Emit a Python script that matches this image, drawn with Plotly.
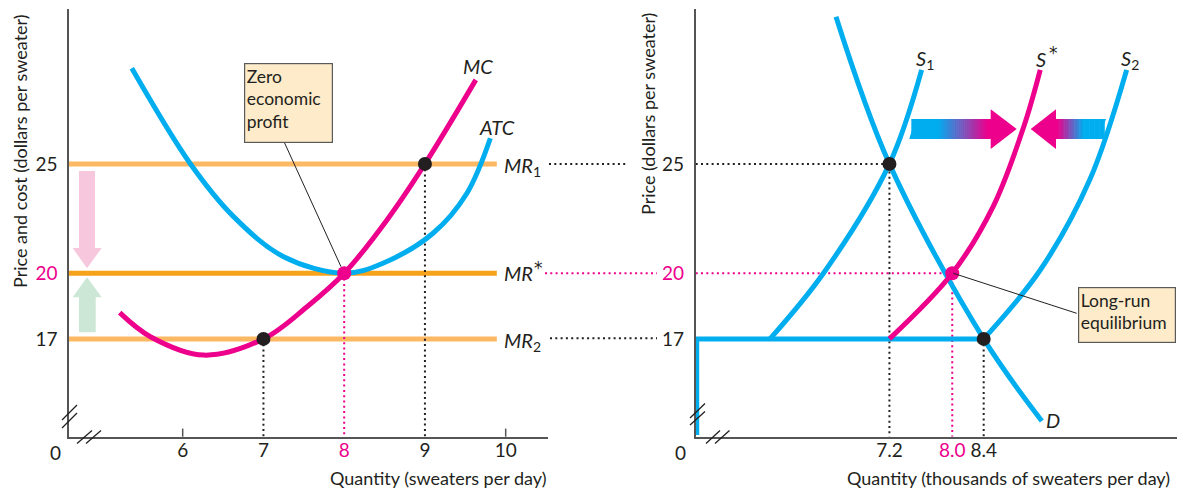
import plotly.graph_objects as go

# ---------------- data ----------------
# Left panel: firm
qty_ticks_left = [6, 7, 8, 9, 10]
qty_tick_text_left = ["6", "7", "8", "9", "10"]
price_ticks = [17, 20, 25]
price_tick_text = ["17", "20", "25"]

atc_q = [5.37, 6.09, 6.63, 7.25, 8.0, 8.48, 9.10, 9.52, 9.81]
atc_p = [29.37, 25.03, 22.59, 20.76, 20.0, 20.46, 21.83, 23.66, 26.17]

mc_q = [5.22, 5.60, 6.26, 7.0, 7.54, 8.0, 8.53, 9.0, 9.63]
mc_p = [18.20, 17.10, 16.26, 17.0, 18.47, 20.0, 22.44, 25.0, 28.84]

mr_levels = [25, 20, 17]          # MR1, MR*, MR2
mr_q_end = 9.89
firm_q = [9, 8, 7]                # output at MR1, MR*, MR2

# Right panel: industry
qty_ticks_right = [7.2, 8.0, 8.4]
qty_tick_text_right = ["7.2", "8.0", "8.4"]

d_q = [6.52, 7.2, 8.4, 9.14]
d_p = [31.73, 25.0, 17.0, 13.25]

s1_q = [5.68, 6.36, 7.2, 7.61]
s1_p = [17.0, 20.0, 25.0, 29.3]

sstar_q = [7.2, 8.0, 8.52, 8.91, 9.12]
sstar_p = [17.0, 20.0, 23.05, 26.70, 29.3]

s2_q = [8.4, 9.12, 9.75, 10.22]
s2_p = [17.0, 20.15, 24.27, 29.3]

shut_q = [4.747, 4.747, 8.4]
shut_p = [12.61, 17.0, 17.0]

eq_q = [7.2, 8.0, 8.4]
eq_p = [25, 20, 17]

# ---------------- styles ----------------
W, H = 1178, 489
BLUE = "#00AEEF"
PINK = "#EC008C"
DARK = "#231F20"
ORANGE_LIGHT = "#FDB863"
ORANGE = "#F7A21B"
AXIS = "#555555"
FONT = "Lato"

LX0, LX1 = 4.592, 10.524
RX0, RX1 = 4.734, 10.857
Y0, Y1 = 12.53, 32.08


def px(x):
    return x / W


def py(y):
    return 1 - y / H


def hexmix(c1, c2, t):
    a = [int(c1[i:i + 2], 16) for i in (1, 3, 5)]
    b = [int(c2[i:i + 2], 16) for i in (1, 3, 5)]
    m = [round(a[k] + (b[k] - a[k]) * t) for k in range(3)]
    return "#%02x%02x%02x" % tuple(m)


fig = go.Figure()

# ---- left panel ----
mr_colors = [ORANGE_LIGHT, ORANGE, ORANGE_LIGHT]
for lvl, col in zip(mr_levels, mr_colors):
    fig.add_trace(go.Scatter(x=[LX0, mr_q_end], y=[lvl, lvl], mode="lines",
                             line=dict(color=col, width=5), xaxis="x", yaxis="y",
                             hoverinfo="skip"))

dot_cols_left = [DARK, PINK, DARK]
for q, p, c in zip(firm_q, mr_levels, dot_cols_left):
    fig.add_trace(go.Scatter(x=[q, q], y=[p, Y0], mode="lines",
                             line=dict(color=c, width=2, dash="2px,3.3px"),
                             xaxis="x", yaxis="y", hoverinfo="skip"))

fig.add_trace(go.Scatter(x=atc_q, y=atc_p, mode="lines",
                         line=dict(color=BLUE, width=5, shape="spline", smoothing=1.0),
                         xaxis="x", yaxis="y"))
fig.add_trace(go.Scatter(x=mc_q, y=mc_p, mode="lines",
                         line=dict(color=PINK, width=5, shape="spline", smoothing=1.0),
                         xaxis="x", yaxis="y"))
fig.add_trace(go.Scatter(x=firm_q, y=mr_levels, mode="markers",
                         marker=dict(color=[DARK, PINK, DARK], size=14, line=dict(width=0)),
                         xaxis="x", yaxis="y"))

# ---- right panel ----
fig.add_trace(go.Scatter(x=[RX0, eq_q[0], eq_q[0]], y=[eq_p[0], eq_p[0], Y0], mode="lines",
                         line=dict(color=DARK, width=2, dash="2px,3.3px"),
                         xaxis="x2", yaxis="y2"))
fig.add_trace(go.Scatter(x=[RX0, eq_q[1], eq_q[1]], y=[eq_p[1], eq_p[1], Y0], mode="lines",
                         line=dict(color=PINK, width=2, dash="2px,3.3px"),
                         xaxis="x2", yaxis="y2"))
fig.add_trace(go.Scatter(x=[eq_q[2], eq_q[2]], y=[eq_p[2], Y0], mode="lines",
                         line=dict(color=DARK, width=2, dash="2px,3.3px"),
                         xaxis="x2", yaxis="y2"))

fig.add_trace(go.Scatter(x=shut_q, y=shut_p, mode="lines",
                         line=dict(color=BLUE, width=5), xaxis="x2", yaxis="y2"))
for qq, pp, col in [(s1_q, s1_p, BLUE), (s2_q, s2_p, BLUE),
                    (d_q, d_p, BLUE), (sstar_q, sstar_p, PINK)]:
    fig.add_trace(go.Scatter(x=qq, y=pp, mode="lines",
                             line=dict(color=col, width=5, shape="spline", smoothing=1.0),
                             xaxis="x2", yaxis="y2"))

fig.add_trace(go.Scatter(x=eq_q, y=eq_p, mode="markers",
                         marker=dict(color=[DARK, PINK, DARK], size=14, line=dict(width=0)),
                         xaxis="x2", yaxis="y2"))

# ---------------- shapes ----------------
shapes = []


def line_px(x0, y0, x1, y1, color=DARK, width=1.2, dash=None):
    d = dict(type="line", xref="paper", yref="paper", x0=px(x0), y0=py(y0),
             x1=px(x1), y1=py(y1), line=dict(color=color, width=width))
    if dash:
        d["line"]["dash"] = dash
    shapes.append(d)


def poly_px(pts, color):
    path = "M " + " L ".join("%f,%f" % (px(a), py(b)) for a, b in pts) + " Z"
    shapes.append(dict(type="path", xref="paper", yref="paper", path=path,
                       fillcolor=color, line=dict(width=0), layer="above"))


# connector dotted lines between panels
line_px(549, 164, 628, 164, DARK, 2, "2px,3.3px")
line_px(545, 273.3, 657, 273.3, PINK, 2, "2px,3.3px")
line_px(550, 338.3, 657, 338.3, DARK, 2, "2px,3.3px")

# tick marks at 6 and 10
for q in (6, 10):
    shapes.append(dict(type="line", xref="x", yref="y domain", x0=q, x1=q, y0=0, y1=0.019,
                       line=dict(color=AXIS, width=1.5)))

# axis breaks
for (a, b, c, d) in [(62, 420, 77, 405), (62, 428, 77, 413),
                     (77, 443.5, 92, 430.5), (86, 443.5, 101, 430.5),
                     (690, 425, 705, 411.5), (690, 418, 705, 403.5),
                     (706, 443.5, 720, 430.5), (715, 443.5, 729.5, 430.5)]:
    line_px(a, b, c, d, DARK, 1.3)

# leader lines
line_px(284.3, 142.3, 341, 266.7, DARK, 1)
line_px(1076.7, 313.3, 953.3, 273.3, DARK, 1)

# pink (down) and green (up) arrows in left panel
PINK_SOFT = "#F7C7DE"
GREEN_SOFT = "#CDE7D7"
poly_px([(79, 171), (95, 171), (95, 248), (101.7, 248), (87, 268.3), (72.7, 248), (79, 248)], PINK_SOFT)
poly_px([(79, 332.3), (95.7, 332.3), (95.7, 297.3), (101.7, 297.3), (87, 277.3), (72.7, 297.3), (79, 297.3)], GREEN_SOFT)

# gradient arrows in right panel
top, bot = 119, 139
n = 40
xa, xb = 909.3, 990.7
for i in range(n):
    s0 = xa + (xb - xa) * i / n
    s1 = xa + (xb - xa) * (i + 1) / n + 0.6
    mid = (s0 + s1) / 2
    t = min(max((mid - 938) / (988 - 938), 0), 1)
    col = hexmix(BLUE, PINK, t)
    if i == 0:
        pts = [(909.3, bot), (915, top), (s1, top), (s1, bot)]
    else:
        pts = [(s0, bot), (s0, top), (s1, top), (s1, bot)]
    poly_px(pts, col)
poly_px([(990.7, 109.3), (1016.7, 129), (990.7, 149)], PINK)

xa, xb = 1056, 1106
for i in range(n):
    s0 = xa + (xb - xa) * i / n - 0.6
    s1 = xa + (xb - xa) * (i + 1) / n
    mid = (s0 + s1) / 2
    t = min(max((mid - 1058) / (1084 - 1058), 0), 1)
    col = hexmix(PINK, BLUE, t)
    if i == n - 1:
        pts = [(s0, bot), (s0, top), (1106, top), (1099.3, bot)]
    else:
        pts = [(s0, bot), (s0, top), (s1, top), (s1, bot)]
    poly_px(pts, col)
poly_px([(1056, 109.3), (1030.7, 129), (1056, 149)], PINK)

# ---------------- annotations ----------------
ann = []


def text_px(x, y, text, size=17, color=DARK, xanchor="center", yanchor="middle",
            angle=0, family=FONT):
    ann.append(dict(x=px(x), y=py(y), xref="paper", yref="paper", text=text,
                    showarrow=False, xanchor=xanchor, yanchor=yanchor, textangle=angle,
                    font=dict(family=family, size=size, color=color)))


TITLE = 18
text_px(55, 452, "0", 19)
text_px(680, 452, "0", 19)
text_px(20, 151, "Price and cost (dollars per sweater)", TITLE, angle=-90)
text_px(648, 114, "Price (dollars per sweater)", TITLE, angle=-90)
text_px(548, 478, "Quantity (sweaters per day)", TITLE, xanchor="right")
text_px(1172, 478, "Quantity (thousands of sweaters per day)", TITLE, xanchor="right")

LAB = 20
text_px(502, 167, "<i>MR</i><sub>1</sub>", LAB, xanchor="left")
text_px(502, 273, "<i>MR</i>", LAB, xanchor="left")
text_px(532, 268, "*", 17, xanchor="left", family="DejaVu Sans")
text_px(502, 341, "<i>MR</i><sub>2</sub>", LAB, xanchor="left")
text_px(478, 66, "<i>MC</i>", LAB)
text_px(497, 127, "<i>ATC</i>", LAB)
text_px(925, 60, "<i>S</i><sub>1</sub>", LAB)
text_px(1041, 59, "<i>S</i>", LAB)
text_px(1047, 53, "*", 17, xanchor="left", family="DejaVu Sans")
text_px(1130, 60, "<i>S</i><sub>2</sub>", LAB)
text_px(1053, 420, "<i>D</i>", LAB)

BOX_BG = "#FDEBC9"
BOXF = 17.5
ann.append(dict(x=px(244.3), y=py(62.7), xref="paper", yref="paper",
                text="Zero<br>economic<br>profit", showarrow=False,
                xanchor="left", yanchor="top", align="left", valign="top",
                width=84, height=75, borderpad=1.5, bgcolor=BOX_BG,
                bordercolor="#5a5a5a", borderwidth=1.2,
                font=dict(family=FONT, size=BOXF, color=DARK)))
ann.append(dict(x=px(1078.3), y=py(286.7), xref="paper", yref="paper",
                text="Long-run<br>equilibrium", showarrow=False,
                xanchor="left", yanchor="top", align="left", valign="top",
                width=93, height=51, borderpad=1.5, bgcolor=BOX_BG,
                bordercolor="#5a5a5a", borderwidth=1.2,
                font=dict(family=FONT, size=BOXF, color=DARK)))

# ---------------- layout ----------------
dom_y = [1 - 436.7 / H, 1 - 9 / H]
axis_common = dict(showgrid=False, zeroline=False, showline=True, linecolor=AXIS,
                   linewidth=1.5, ticks="", tickfont=dict(family=FONT, size=19, color=DARK),
                   fixedrange=True)


def colored(texts, pink_label):
    return ['<span style="color:%s">%s</span>' % (PINK, t) if t == pink_label else t
            for t in texts]


fig.update_layout(
    width=W, height=H, margin=dict(l=0, r=0, t=0, b=0),
    paper_bgcolor="white", plot_bgcolor="white", showlegend=False,
    xaxis=dict(domain=[69 / W, 548 / W], range=[LX0, LX1], anchor="y",
               tickvals=qty_ticks_left, ticktext=colored(qty_tick_text_left, "8"),
               ticklabelstandoff=-4, **axis_common),
    yaxis=dict(domain=dom_y, range=[Y0, Y1], anchor="x",
               tickvals=price_ticks, ticktext=colored(price_tick_text, "20"),
               ticklabelstandoff=6, **axis_common),
    xaxis2=dict(domain=[695.7 / W, 1176.7 / W], range=[RX0, RX1], anchor="y2",
                tickvals=qty_ticks_right, ticktext=colored(qty_tick_text_right, "8.0"),
                ticklabelstandoff=-4, **axis_common),
    yaxis2=dict(domain=dom_y, range=[Y0, Y1], anchor="x2",
                tickvals=price_ticks, ticktext=colored(price_tick_text, "20"),
                ticklabelstandoff=6, **axis_common),
    shapes=shapes, annotations=ann,
)

fig.write_html("out.html", config={"displayModeBar": False},
               post_script="document.body.style.margin='0';document.body.style.overflow='hidden';")
